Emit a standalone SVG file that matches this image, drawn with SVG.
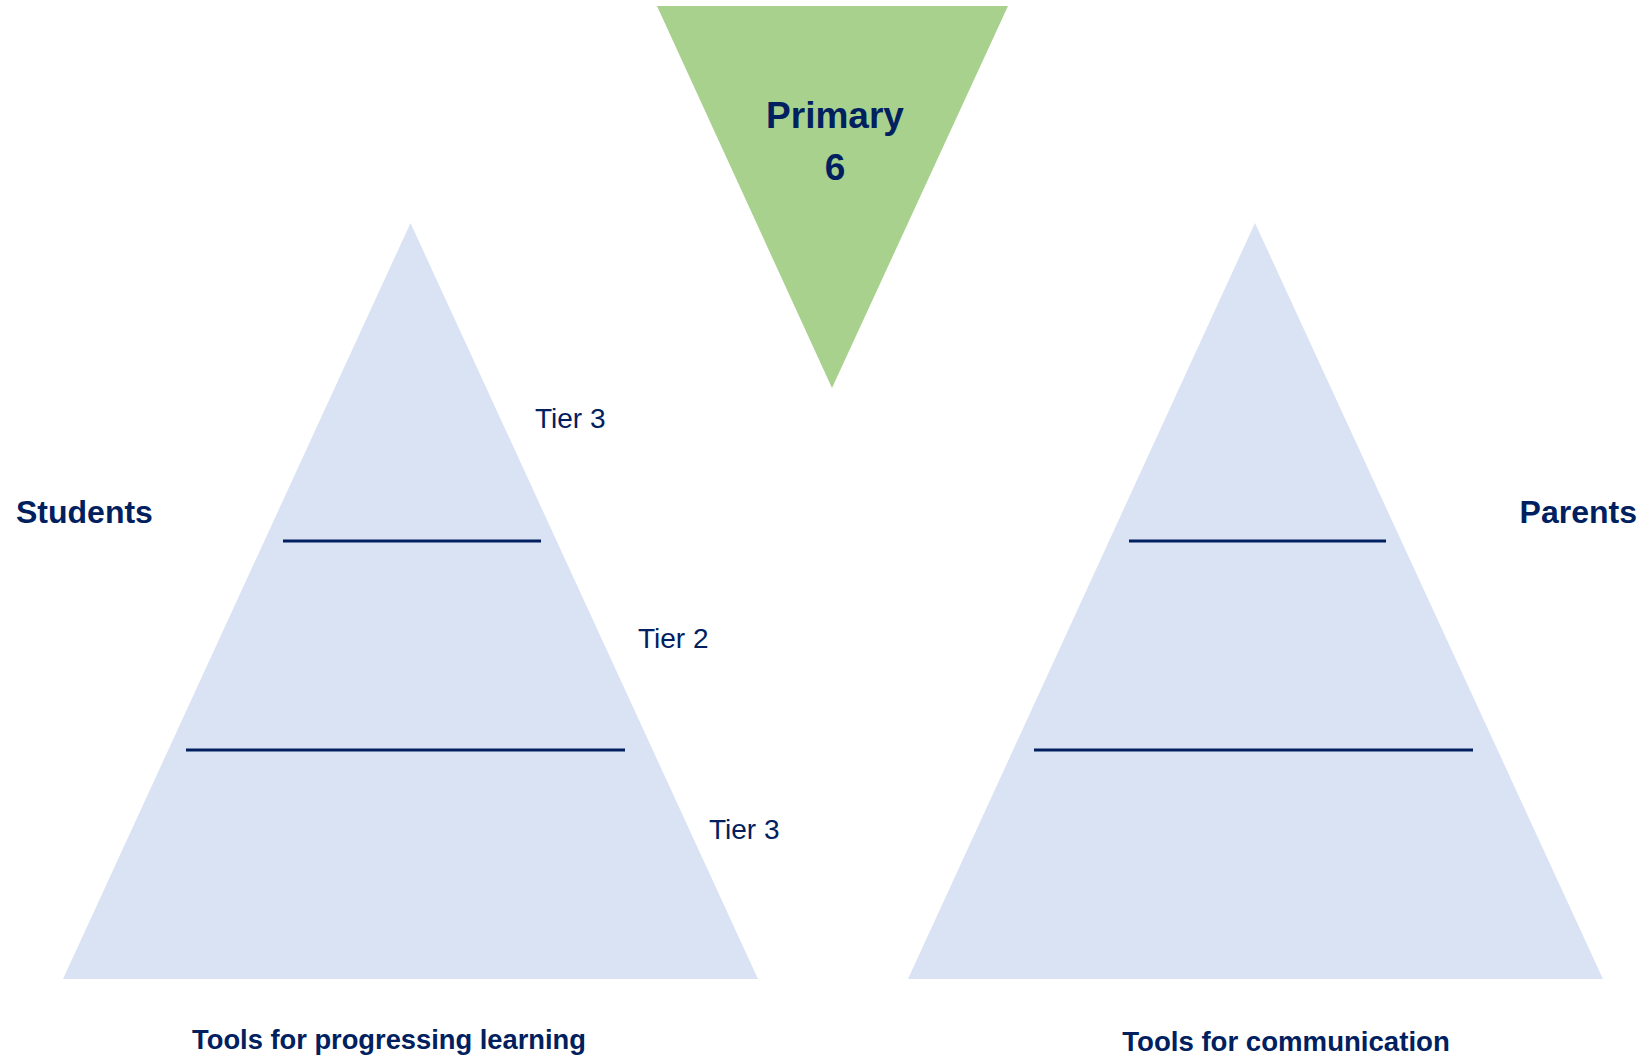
<svg xmlns="http://www.w3.org/2000/svg" width="1646" height="1056" viewBox="0 0 1646 1056">
<style>
.tri{fill:#DAE3F3;stroke:none}
.green{fill:#A9D18E;stroke:none}
.sep{stroke:#002060;stroke-width:3;fill:none}
text{font-family:"Liberation Sans",Arial,sans-serif;fill:#002060}
.b{font-weight:bold}
.tier{font-size:28px}
</style>
<rect width="1646" height="1056" fill="#ffffff"/>
<g id="students-pyramid">
<polygon class="tri" points="410.5,223 758,979 63,979"/>
<line class="sep" x1="283" y1="541" x2="541" y2="541"/>
<line class="sep" x1="186" y1="750" x2="625" y2="750"/>
</g>
<g id="parents-pyramid">
<polygon class="tri" points="1255,223 1603,979 908,979"/>
<line class="sep" x1="1129" y1="541" x2="1386" y2="541"/>
<line class="sep" x1="1034" y1="750" x2="1473" y2="750"/>
</g>
<g id="primary">
<polygon class="green" points="657,6 1008,6 832,388"/>
<text class="b" x="835" y="128" font-size="37" text-anchor="middle">Primary</text>
<text class="b" x="835" y="180" font-size="37" text-anchor="middle">6</text>
</g>
<g id="tier-labels">
<text class="tier" x="535" y="428">Tier 3</text>
<text class="tier" x="638" y="648">Tier 2</text>
<text class="tier" x="709" y="839">Tier 3</text>
</g>
<g id="side-labels">
<text class="b" x="16" y="523" font-size="32">Students</text>
<text class="b" x="1637" y="523" font-size="32" text-anchor="end">Parents</text>
</g>
<g id="bottom-labels">
<text class="b" x="389" y="1049" font-size="27.3" text-anchor="middle">Tools for progressing learning</text>
<text class="b" x="1286" y="1051" font-size="27.6" text-anchor="middle">Tools for communication</text>
</g>
<g id="connectors"></g>
</svg>
